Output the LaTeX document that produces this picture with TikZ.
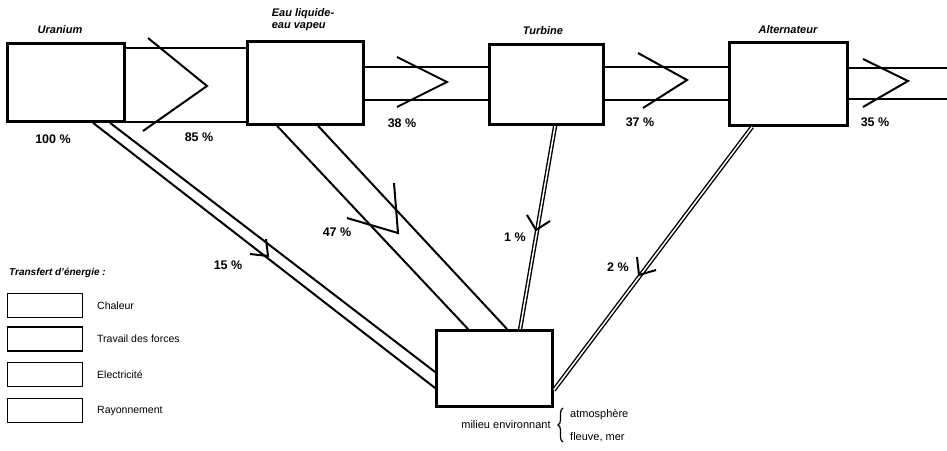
\documentclass[tikz,border=0pt]{standalone}
\usepackage{fontspec}
\setmainfont{Liberation Sans}
\usetikzlibrary{calc,decorations.pathreplacing}
\begin{document}
\begin{tikzpicture}[x=1pt,y=-1pt,
  box/.style={draw, line width=2.8pt, inner sep=0pt},
  legbox/.style={draw, line width=1.4pt, inner sep=0pt, minimum width=75pt, minimum height=24pt},
  band/.style={line width=2pt},
  dbl/.style={double, line width=1.4pt, double distance=1.5pt},
  chev/.style={line width=2pt, line join=miter},
  pct/.style={font=\fontsize{12.5}{14}\selectfont\bfseries, inner sep=0pt},
  ttl/.style={font=\fontsize{11}{13}\selectfont\bfseries\itshape, inner sep=0pt},
  leg/.style={font=\fontsize{10.5}{12}\selectfont, inner sep=0pt, anchor=west},
  env/.style={font=\fontsize{11}{12}\selectfont, inner sep=0pt}
]
\useasboundingbox (0,0) rectangle (947,450);
\fill[white] (0,0) rectangle (947,450);

% main boxes
\node[box, minimum width=117pt, minimum height=78pt] (ura) at (66,82.5) {};
\node[box, minimum width=116pt, minimum height=83pt] (eau) at (305.5,83) {};
\node[box, minimum width=114pt, minimum height=80pt] (tur) at (546.5,84.5) {};
\node[box, minimum width=118pt, minimum height=83pt] (alt) at (788.5,84) {};
\node[box, minimum width=116pt, minimum height=76pt] (mil) at (494.5,368.5) {};

% titles
\node[ttl] (turanium) at (60,30) {Uranium};
\node[ttl, align=left] (teau) at (303,20) {Eau liquide-\\[-1pt]eau vapeu};
\node[ttl] (tturb) at (543,31) {Turbine};
\node[ttl] (talt) at (788,30) {Alternateur};

% horizontal bands
\coordinate (ya) at (0,48);
\coordinate (yb) at (0,122);
\coordinate (yc) at (0,67);
\coordinate (yd) at (0,100);
\coordinate (ye) at (0,68);
\coordinate (yf) at (0,99);
\coordinate (outT) at (947,68);
\coordinate (outB) at (947,99);
\draw[band] (ura.east |- ya) -- (eau.west |- ya);
\draw[band] (ura.east |- yb) -- (eau.west |- yb);
\draw[band] (eau.east |- yc) -- (tur.west |- yc);
\draw[band] (eau.east |- yd) -- (tur.west |- yd);
\draw[band] (tur.east |- yc) -- (alt.west |- yc);
\draw[band] (tur.east |- yd) -- (alt.west |- yd);
\draw[band] (alt.east |- ye) -- (outT);
\draw[band] (alt.east |- yf) -- (outB);

% chevrons on horizontal bands
\draw[chev] (148,38) -- (207,86) -- (143,131);
\draw[chev] (397,57) -- (447,82) -- (397,107);
\draw[chev] (638,53) -- (687,80) -- (643,108);
\draw[chev] (863,59) -- (908,81) -- (863,107);

% diagonal transfers
\draw[band] ([xshift=104pt]ura.south west) -- ([yshift=-3.5pt]mil.west);
\draw[band] ([xshift=87pt]ura.south west) -- ([yshift=-19.5pt]mil.west);
\draw[band] ([xshift=31pt]eau.south west) -- ([xshift=33pt]mil.north west);
\draw[band] ([xshift=72pt]eau.south west) -- ([xshift=72pt]mil.north west);
\draw[dbl] ([xshift=67pt]tur.south west) -- ([xshift=85pt]mil.north west);
\draw[dbl] ([xshift=24pt]alt.south west) -- ([yshift=-21.5pt]mil.east);

% chevrons on diagonals
\draw[chev] (250,254) -- (268,256) -- (266,239);
\draw[chev] (347,218) -- (398,233) -- (394,183);
\draw[chev] (527,215) -- (536,230) -- (550,221);
\draw[chev] (637,257) -- (639,275) -- (656,270);

% percentages
\node[pct] (p100) at (53,139) {100 \%};
\node[pct] (p85) at (199,137) {85 \%};
\node[pct] (p38) at (402,123) {38 \%};
\node[pct] (p37) at (640,122) {37 \%};
\node[pct] (p35) at (875,122) {35 \%};
\node[pct] (p15) at (228,265) {15 \%};
\node[pct] (p47) at (337,232) {47 \%};
\node[pct] (p1) at (515,237) {1 \%};
\node[pct] (p2) at (618,267) {2 \%};

% legend
\node[font=\fontsize{10}{12}\selectfont\bfseries\itshape, inner sep=0pt, anchor=west] (legt) at (9,273) {Transfert d'énergie :};
\node[legbox] (l1) at (45,305.5) {};
\node[legbox] (l2) at (45,339) {};
\node[legbox] (l3) at (45,374.5) {};
\node[legbox] (l4) at (45,410.5) {};
\node[leg] (lt1) at (97,306) {Chaleur};
\node[leg] (lt2) at (97,339) {Travail des forces};
\node[leg] (lt3) at (97,375) {Electricité};
\node[leg] (lt4) at (97,411) {Rayonnement};

% environment labels
\node[env] (menv) at (506,425) {milieu environnant};
\draw[line width=1.2pt, decorate, decoration={brace, amplitude=5pt}] (563,442) -- (563,408);
\node[env, anchor=west] (atm) at (570,415) {atmosphère};
\node[env, anchor=west] (fle) at (570,437) {fleuve, mer};
\end{tikzpicture}
\end{document}
